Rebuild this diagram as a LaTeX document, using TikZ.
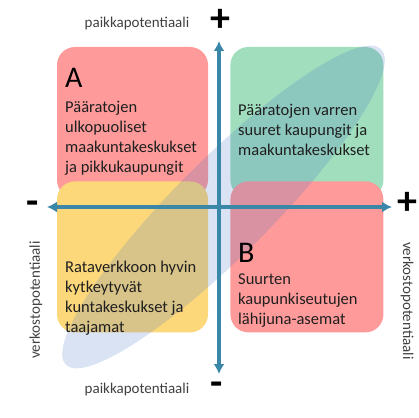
\documentclass[tikz,border=0pt]{standalone}
\usepackage{fontspec}
\setmainfont{Carlito}
\usetikzlibrary{arrows.meta,positioning}
\definecolor{punainen}{HTML}{FF9A9A}
\definecolor{vihrea}{HTML}{A0DEBE}
\definecolor{keltainen}{HTML}{FDD87A}
\definecolor{akselisin}{HTML}{3A87A8}
\definecolor{vyosin}{HTML}{4472C4}
\definecolor{harmaa}{HTML}{404040}
\tikzstyle{kentta}=[
	rectangle,
	rounded corners=18,
	minimum width=151,
	minimum height=151,
	inner sep=0]
\tikzstyle{teksti}=[
	anchor=north west,
	inner sep=0,
	align=left,
	text=black!88,
	font=\fontsize{16.5}{20}\selectfont]
\tikzstyle{kirjain}=[
	anchor=base west,
	inner sep=0,
	font=\fontsize{30}{30}\selectfont]
\tikzstyle{nimi}=[
	inner sep=0,
	text=harmaa,
	font=\fontsize{15}{15}\selectfont]
\tikzstyle{merkki}=[
	inner sep=0,
	font=\fontsize{40}{40}\selectfont\bfseries]
\tikzstyle{akseli}=[
	<->,
	line width=3.5,
	draw=akselisin]

\begin{document}
\begin{tikzpicture}[x=1pt,y=-1pt,>={Latex[length=10pt,width=11pt]}]
	\useasboundingbox (0,0) rectangle (419,417);
	\begin{scope}[node distance=17 and 22]
		% nelikentta
		\node[kentta,fill=punainen]	(A)	at (132.5,122.5)	{};
		\node[kentta,fill=vihrea,minimum width=153]	(AB)	[right=of A]	{};
		\node[kentta,fill=keltainen]	(BA)	[below=of A]	{};
		\node[kentta,fill=punainen,minimum width=153]	(B)	[below=of AB]	{};
		% vino vyohyke
		\fill[vyosin,fill opacity=0.2,rotate around={45:(223.5,207)}]	(223.5,207) ellipse [x radius=223,y radius=48];
		% tekstit
		\node[kirjain]	(kA)	at (65,88)	{A};
		\node[teksti]	(tA)	at (65,101)	{Pääratojen\\ulkopuoliset\\maakuntakeskukset\\ja pikkukaupungit};
		\node[teksti]	(tAB)	at (238,104)	{Pääratojen varren\\suuret kaupungit ja\\maakuntakeskukset};
		\node[teksti]	(tBA)	at (65,261)	{Rataverkkoon hyvin\\kytkeytyvät\\kuntakeskukset ja\\taajamat};
		\node[kirjain]	(kB)	at (238,262)	{B};
		\node[teksti]	(tB)	at (238,274)	{Suurten\\kaupunkiseutujen\\lähijuna-asemat};
		% akselit
		\coordinate	(ylos)	at (219,41);
		\coordinate	(alas)	at (219,374);
		\coordinate	(vasen)	at (47,207);
		\coordinate	(oikea)	at (392,207);
		\draw[akseli]	(alas) -- (ylos);
		\draw[akseli]	(vasen) -- (oikea);
		% akselien nimet
		\node[nimi]	(pY)	at (137,24)	{paikkapotentiaali};
		\node[nimi]	(pA)	at (137,389)	{paikkapotentiaali};
		\node[nimi,rotate=90]	(vV)	at (36,300)	{verkostopotentiaali};
		\node[nimi,rotate=-90]	(vO)	at (407,301)	{verkostopotentiaali};
		\node[merkki]	(plusY)	at (220,20)	{+};
		\node[merkki]	(miinusA)	at (217,389)	{-};
		\node[merkki]	(miinusV)	at (33,208)	{-};
		\node[merkki]	(plusO)	at (407,203)	{+};
	\end{scope}
\end{tikzpicture}
\end{document}
